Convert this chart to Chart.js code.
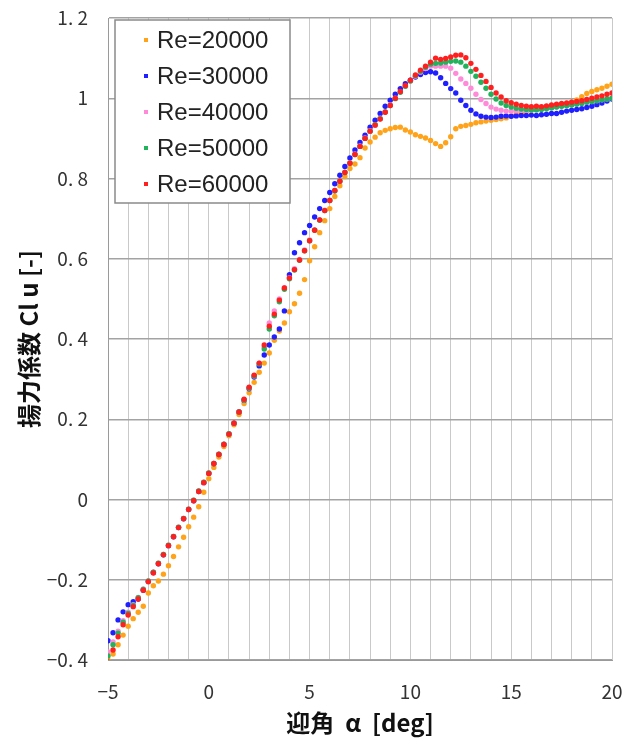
<!DOCTYPE html>
<html>
<head>
<meta charset="utf-8">
<script src="https://cdn.jsdelivr.net/npm/chart.js@4.4.1/dist/chart.umd.min.js"></script>
<style>
  html, body { margin: 0; padding: 0; background: #fff; }
</style>
</head>
<body>
<canvas id="liftChart" width="636" height="745"></canvas>
<script>
// angle of attack [deg], shared by every series
const alpha = [-5,-4.75,-4.5,-4.25,-4,-3.75,-3.5,-3.25,-3,-2.75,-2.5,-2.25,-2,-1.75,-1.5,-1.25,
  -1,-0.75,-0.5,-0.25,0,0.25,0.5,0.75,1,1.25,1.5,1.75,2,2.25,2.5,2.75,3,3.25,3.5,3.75,
  4,4.25,4.5,4.75,5,5.25,5.5,5.75,6,6.25,6.5,6.75,7,7.25,7.5,7.75,8,8.25,8.5,8.75,
  9,9.25,9.5,9.75,10,10.25,10.5,10.75,11,11.25,11.5,11.75,12,12.25,12.5,12.75,
  13,13.25,13.5,13.75,14,14.25,14.5,14.75,15,15.25,15.5,15.75,16,16.25,16.5,16.75,
  17,17.25,17.5,17.75,18,18.25,18.5,18.75,19,19.25,19.5,19.75,20];

const seriesLabels = ["Re=20000", "Re=30000", "Re=40000", "Re=50000", "Re=60000"];

const clRe20000 = [
  -0.400,-0.385,-0.362,-0.338, -0.316,-0.297,-0.281,-0.266, -0.233,-0.215,-0.203,-0.186,
  -0.165,-0.142,-0.118,-0.094, -0.068,-0.044,-0.018,0.018, 0.052,0.080,0.106,0.132,
  0.159,0.186,0.212,0.239, 0.266,0.292,0.317,0.340, 0.365,0.397,0.420,0.440,
  0.468,0.488,0.514,0.548, 0.595,0.630,0.665,0.695, 0.725,0.755,0.782,0.805,
  0.825,0.836,0.852,0.876, 0.891,0.903,0.914,0.920, 0.924,0.927,0.928,0.921,
  0.916,0.909,0.905,0.901, 0.895,0.887,0.880,0.889, 0.904,0.924,0.930,0.932,
  0.935,0.939,0.941,0.943, 0.945,0.947,0.949,0.951, 0.956,0.960,0.963,0.967,
  0.970,0.972,0.974,0.976, 0.979,0.981,0.983,0.986, 0.990,0.996,1.004,1.012,
  1.017,1.021,1.025,1.030, 1.035];

const clRe30000 = [
  -0.352,-0.332,-0.300,-0.280, -0.262,-0.255,-0.248,-0.226, -0.204,-0.182,-0.160,-0.138,
  -0.115,-0.093,-0.070,-0.048, -0.025,-0.003,0.020,0.042, 0.065,0.089,0.112,0.137,
  0.163,0.190,0.218,0.247, 0.276,0.305,0.333,0.360, 0.385,0.405,0.425,0.470,
  0.560,0.615,0.640,0.665, 0.683,0.704,0.725,0.745, 0.765,0.787,0.808,0.830,
  0.851,0.871,0.890,0.908, 0.928,0.945,0.962,0.980, 0.995,1.010,1.024,1.036,
  1.045,1.053,1.059,1.064, 1.066,1.063,1.051,1.037, 1.024,1.013,0.995,0.982,
  0.970,0.961,0.955,0.953, 0.952,0.953,0.955,0.956, 0.955,0.956,0.957,0.957,
  0.958,0.957,0.959,0.960, 0.962,0.962,0.965,0.968, 0.970,0.972,0.974,0.977,
  0.980,0.984,0.988,0.993, 0.998];

const clRe40000 = [
  -0.380,-0.355,-0.328,-0.302, -0.281,-0.262,-0.244,-0.223, -0.203,-0.181,-0.159,-0.137,
  -0.114,-0.092,-0.069,-0.047, -0.024,-0.002,0.021,0.043, 0.066,0.090,0.113,0.138,
  0.164,0.190,0.218,0.248, 0.278,0.308,0.340,0.380, 0.440,0.470,0.500,0.528,
  0.553,0.575,0.598,0.622, 0.647,0.672,0.697,0.721, 0.746,0.770,0.794,0.816,
  0.839,0.861,0.881,0.901, 0.919,0.934,0.950,0.966, 0.983,1.000,1.016,1.030,
  1.043,1.055,1.065,1.074, 1.080,1.080,1.080,1.080, 1.075,1.062,1.048,1.037,
  1.025,1.010,0.997,0.987, 0.978,0.973,0.970,0.968, 0.968,0.969,0.970,0.970,
  0.971,0.972,0.973,0.975, 0.977,0.978,0.980,0.982, 0.984,0.986,0.988,0.990,
  0.992,0.994,0.996,0.998, 1.001];

const clRe50000 = [
  -0.390,-0.362,-0.333,-0.306, -0.284,-0.264,-0.245,-0.224, -0.203,-0.181,-0.159,-0.137,
  -0.114,-0.092,-0.069,-0.047, -0.024,-0.002,0.021,0.043, 0.066,0.090,0.113,0.138,
  0.164,0.190,0.218,0.248, 0.278,0.308,0.338,0.375, 0.425,0.458,0.493,0.524,
  0.550,0.572,0.596,0.620, 0.645,0.671,0.696,0.720, 0.745,0.769,0.793,0.815,
  0.838,0.860,0.880,0.900, 0.918,0.934,0.949,0.966, 0.982,0.999,1.015,1.030,
  1.043,1.056,1.067,1.077, 1.085,1.087,1.088,1.090, 1.092,1.093,1.090,1.080,
  1.067,1.055,1.040,1.025, 1.010,0.998,0.988,0.982, 0.978,0.975,0.973,0.972,
  0.971,0.971,0.972,0.974, 0.976,0.978,0.980,0.981, 0.983,0.985,0.987,0.990,
  0.992,0.994,0.996,0.998, 1.000];

const clRe60000 = [
  -0.405,-0.375,-0.342,-0.312, -0.288,-0.267,-0.248,-0.226, -0.205,-0.183,-0.160,-0.138,
  -0.115,-0.093,-0.070,-0.048, -0.025,-0.003,0.020,0.042, 0.065,0.090,0.112,0.137,
  0.163,0.190,0.218,0.250, 0.280,0.310,0.340,0.385, 0.432,0.462,0.497,0.527,
  0.552,0.573,0.597,0.620, 0.645,0.671,0.697,0.720, 0.745,0.770,0.793,0.815,
  0.838,0.860,0.880,0.900, 0.918,0.933,0.948,0.965, 0.982,1.000,1.017,1.032,
  1.045,1.058,1.070,1.080, 1.090,1.100,1.097,1.099, 1.103,1.107,1.108,1.101,
  1.087,1.072,1.057,1.042, 1.027,1.013,1.003,0.994, 0.989,0.985,0.982,0.980,
  0.979,0.980,0.979,0.981, 0.983,0.985,0.987,0.988, 0.990,0.992,0.994,0.997,
  1.000,1.003,1.006,1.010, 1.013];

const allSeries = [clRe20000, clRe30000, clRe40000, clRe50000, clRe60000];
const colors = ["#ffa31a", "#1f1fff", "#ff8ad8", "#22b25c", "#ff1f1f"];

const datasets = allSeries.map((vals, i) => ({
  label: seriesLabels[i],
  data: alpha.map((a, j) => ({ x: a, y: vals[j] })),
  backgroundColor: colors[i],
  borderColor: colors[i],
  borderWidth: 0,
  pointRadius: 2.7,
  showLine: false,
  order: 5 - i   // red on top
}));

// legend drawn inside the plot, with a frame
const boxLegend = {
  id: 'boxLegend',
  afterDatasetsDraw(chart) {
    const { ctx, chartArea } = chart;
    const x0 = chartArea.left + 7, y0 = chartArea.top + 2;
    const w = 175, h = 183;
    ctx.save();
    ctx.fillStyle = '#fff';
    ctx.fillRect(x0, y0, w, h);
    ctx.strokeStyle = '#8a8a8a';
    ctx.lineWidth = 1.5;
    ctx.strokeRect(x0, y0, w, h);
    ctx.font = '24px "Liberation Sans", Arial, sans-serif';
    ctx.textBaseline = 'middle';
    chart.data.datasets.forEach((ds, i) => {
      const cy = y0 + 20 + i * 36;
      ctx.fillStyle = ds.backgroundColor;
      ctx.fillRect(x0 + 29, cy - 2, 4, 4);
      ctx.fillStyle = '#222';
      ctx.fillText(ds.label, x0 + 42, cy + 1);
    });
    ctx.restore();
  }
};

new Chart(document.getElementById('liftChart'), {
  type: 'scatter',
  data: { datasets },
  options: {
    responsive: false,
    animation: false,
    layout: { padding: { left: 0, top: 18, right: 24, bottom: 0 } },
    plugins: {
      legend: { display: false },
      tooltip: { enabled: false }
    },
    scales: {
      x: {
        type: 'linear',
        min: -5,
        max: 20,
        afterFit: s => { s.height = 85; s.paddingLeft = 0; s.paddingRight = 0; },
        ticks: {
          stepSize: 1,
          padding: 20,
          color: '#333',
          font: { family: '"Noto Sans CJK JP"', size: 19 },
          maxRotation: 0,
          autoSkip: false,
          callback: v => (v % 5 === 0 ? (v < 0 ? '\u2212' + Math.abs(v) : String(v)) : '')
        },
        grid: { color: '#c9c9c9', lineWidth: 1, drawTicks: false },
        border: { color: '#9a9a9a', width: 1 },
        title: {
          display: true,
          text: '迎角  α  [deg]',
          color: '#111',
          font: { family: '"Noto Sans CJK JP"', size: 24, weight: 'bold' },
          padding: { top: 0, bottom: 8 }
        }
      },
      y: {
        min: -0.4,
        max: 1.2,
        afterFit: s => { s.width = 108; s.paddingTop = 0; s.paddingBottom = 0; },
        ticks: {
          stepSize: 0.2,
          padding: 20,
          color: '#333',
          font: { family: '"Noto Sans CJK JP"', size: 19 },
          callback: v => {
            const r = Math.round(v * 10) / 10;
            if (r === 0) return '0';
            if (r === 1) return '1';
            return r.toFixed(1).replace('-', '\u2212').replace('.', '. ');
          }
        },
        grid: { color: '#a3a3a3', lineWidth: 1.5, drawTicks: false },
        border: { color: '#9a9a9a', width: 1 },
        title: {
          display: true,
          text: '揚力係数 Cl u [-]',
          color: '#111',
          font: { family: '"Noto Sans CJK JP"', size: 24, weight: 'bold' },
          padding: { top: 14, bottom: 0 }
        }
      }
    }
  },
  plugins: [boxLegend]
});
</script>
</body>
</html>
